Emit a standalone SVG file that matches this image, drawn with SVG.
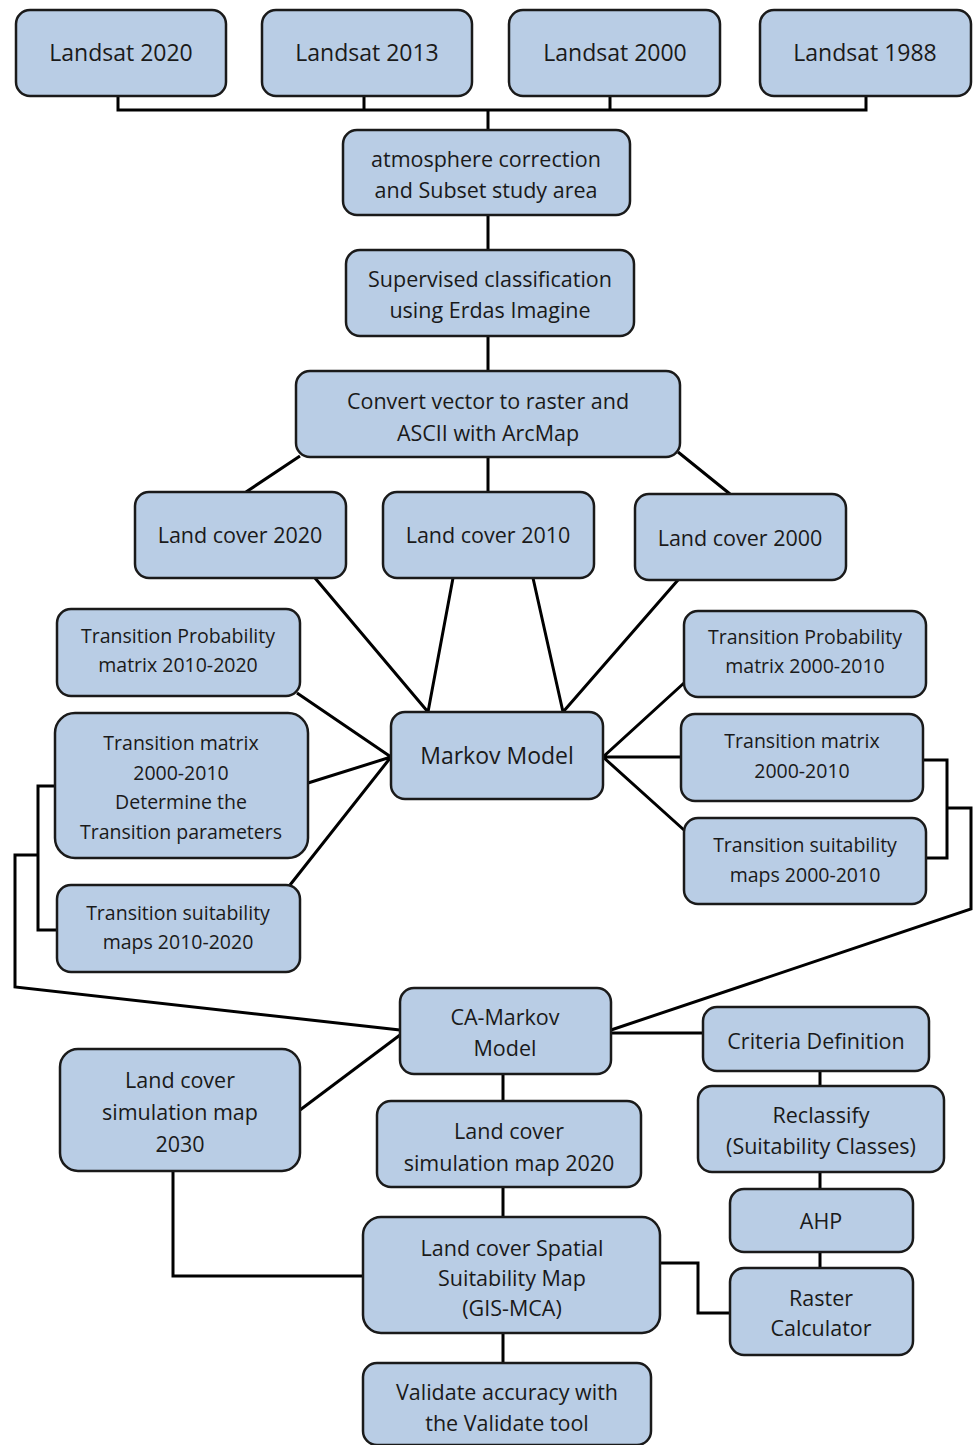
<svg xmlns="http://www.w3.org/2000/svg" width="975" height="1445" viewBox="0 0 975 1445">
<style>
.n rect{fill:#b9cde5;stroke:#1a1a1a;stroke-width:2.5}
.n text{font-family:"Open Sans","Noto Sans",sans-serif;font-size:21.5px;fill:#1a1a1a;text-anchor:middle}
.n text.b{font-size:23px}
.n text.s{font-size:19.5px}
#connectors path{fill:none;stroke:#000;stroke-width:3}
</style>
<rect width="975" height="1445" fill="#fff"/>
<g id="connectors">
<path d="M118 97V110H866V97M364 97V110M610 97V110M488 110V130"/>
<path d="M488 216V250M488 336V371"/>
<path d="M300 456L246 492M488 457V492M678 452L730 494"/>
<path d="M315 578L428 712M453 578L428 712M533 578L563 712M678 580L563 712"/>
<path d="M297 693L391 757L308 783M391 757L290 885"/>
<path d="M684 683L603 757H681M603 757L684 830"/>
<path d="M923 760H947V858H926M947 808H971V909L611 1030"/>
<path d="M55 786H38V930H57M38 855H15V987L400 1030"/>
<path d="M400 1035L300 1110"/>
<path d="M611 1033H703"/>
<path d="M503 1074V1101M503 1187V1217M503 1333V1363"/>
<path d="M173 1172V1276H363"/>
<path d="M820 1071V1086M820 1172V1189M820 1252V1268"/>
<path d="M661 1263H698V1313H730"/>
</g>
<g id="landsat2020" class="n"><rect x="16" y="10" width="210" height="86" rx="14"/><text class="b" x="121" y="61">Landsat 2020</text></g>
<g id="landsat2013" class="n"><rect x="262" y="10" width="210" height="86" rx="14"/><text class="b" x="367" y="61">Landsat 2013</text></g>
<g id="landsat2000" class="n"><rect x="509" y="10" width="211" height="86" rx="14"/><text class="b" x="615" y="61">Landsat 2000</text></g>
<g id="landsat1988" class="n"><rect x="760" y="10" width="211" height="86" rx="14"/><text class="b" x="865" y="61">Landsat 1988</text></g>
<g id="atmosphere" class="n"><rect x="343" y="130" width="287" height="85" rx="14"/><text x="486" y="167">atmosphere correction</text><text x="486" y="198">and Subset study area</text></g>
<g id="supervised" class="n"><rect x="346" y="250" width="288" height="86" rx="14"/><text x="490" y="287">Supervised classification</text><text x="490" y="318">using Erdas Imagine</text></g>
<g id="convert" class="n"><rect x="296" y="371" width="384" height="86" rx="14"/><text x="488" y="409">Convert vector to raster and</text><text x="488" y="441">ASCII with ArcMap</text></g>
<g id="lc2020" class="n"><rect x="135" y="492" width="211" height="86" rx="14"/><text x="240" y="543">Land cover 2020</text></g>
<g id="lc2010" class="n"><rect x="383" y="492" width="211" height="86" rx="14"/><text x="488" y="543">Land cover 2010</text></g>
<g id="lc2000" class="n"><rect x="635" y="494" width="211" height="86" rx="14"/><text x="740" y="546">Land cover 2000</text></g>
<g id="tpm1020" class="n"><rect x="57" y="609" width="243" height="87" rx="14"/><text class="s" x="178" y="643">Transition Probability</text><text class="s" x="178" y="672">matrix 2010-2020</text></g>
<g id="tm0010left" class="n"><rect x="55" y="713" width="253" height="145" rx="20"/><text class="s" x="181" y="750">Transition matrix</text><text class="s" x="181" y="780">2000-2010</text><text class="s" x="181" y="809">Determine the</text><text class="s" x="181" y="839">Transition parameters</text></g>
<g id="tsm1020" class="n"><rect x="57" y="885" width="243" height="87" rx="14"/><text class="s" x="178" y="920">Transition suitability</text><text class="s" x="178" y="949">maps 2010-2020</text></g>
<g id="markov" class="n"><rect x="391" y="712" width="212" height="87" rx="14"/><text class="b" x="497" y="764">Markov Model</text></g>
<g id="tpm0010" class="n"><rect x="684" y="611" width="242" height="86" rx="14"/><text class="s" x="805" y="644">Transition Probability</text><text class="s" x="805" y="673">matrix 2000-2010</text></g>
<g id="tm0010right" class="n"><rect x="681" y="714" width="242" height="87" rx="14"/><text class="s" x="802" y="748">Transition matrix</text><text class="s" x="802" y="778">2000-2010</text></g>
<g id="tsm0010" class="n"><rect x="684" y="818" width="242" height="86" rx="14"/><text class="s" x="805" y="852">Transition suitability</text><text class="s" x="805" y="882">maps 2000-2010</text></g>
<g id="camarkov" class="n"><rect x="400" y="988" width="211" height="86" rx="14"/><text x="505" y="1025">CA-Markov</text><text x="505" y="1056">Model</text></g>
<g id="sim2030" class="n"><rect x="60" y="1049" width="240" height="122" rx="18"/><text x="180" y="1088">Land cover</text><text x="180" y="1120">simulation map</text><text x="180" y="1152">2030</text></g>
<g id="sim2020" class="n"><rect x="377" y="1101" width="264" height="86" rx="14"/><text x="509" y="1139">Land cover</text><text x="509" y="1171">simulation map 2020</text></g>
<g id="spatial" class="n"><rect x="363" y="1217" width="297" height="116" rx="18"/><text x="512" y="1256">Land cover Spatial</text><text x="512" y="1286">Suitability Map</text><text x="512" y="1316">(GIS-MCA)</text></g>
<g id="validate" class="n"><rect x="363" y="1363" width="288" height="82" rx="14"/><text x="507" y="1400">Validate accuracy with</text><text x="507" y="1431">the Validate tool</text></g>
<g id="criteria" class="n"><rect x="703" y="1007" width="226" height="64" rx="14"/><text x="816" y="1049">Criteria Definition</text></g>
<g id="reclassify" class="n"><rect x="698" y="1086" width="246" height="86" rx="14"/><text x="821" y="1123">Reclassify</text><text x="821" y="1154">(Suitability Classes)</text></g>
<g id="ahp" class="n"><rect x="730" y="1189" width="183" height="63" rx="14"/><text x="821" y="1229">AHP</text></g>
<g id="raster" class="n"><rect x="730" y="1268" width="183" height="87" rx="14"/><text x="821" y="1336">Calculator</text><text x="821" y="1306">Raster</text></g>
</svg>
